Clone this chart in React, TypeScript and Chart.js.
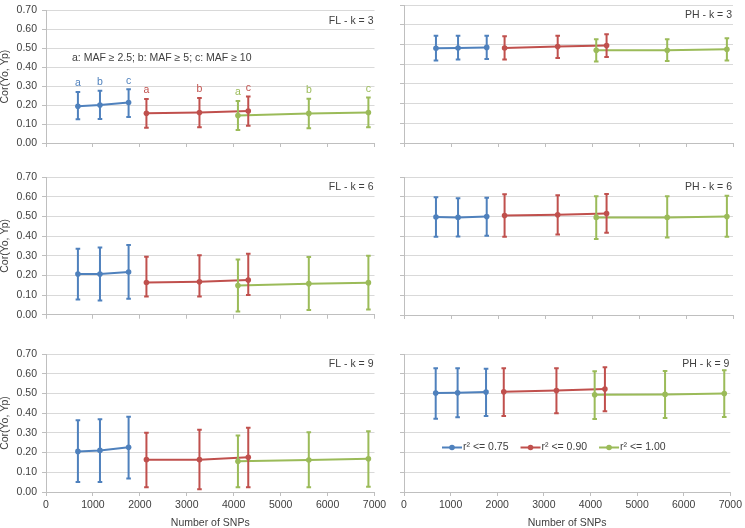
import React, { useEffect, useRef } from 'react';
import { Chart, registerables } from 'chart.js';

Chart.register(...registerables);

// ---------------- DATA ----------------
const snpsBlue = [680, 1150, 1760];
const snpsRed = [2140, 3270, 4310];
const snpsGreen = [4090, 5600, 6870];
const seriesNames = ['r² <= 0.75', 'r² <= 0.90', 'r² <= 1.00'];
const mafLetters = ['a', 'b', 'c'];
const xTickLabels = ['0', '1000', '2000', '3000', '4000', '5000', '6000', '7000'];
const yTickLabels = ['0.00', '0.10', '0.20', '0.30', '0.40', '0.50', '0.60', '0.70'];
const mafNote = 'a: MAF ≥ 2.5; b: MAF ≥ 5; c: MAF ≥ 10';
const panelTitles = ['FL - k = 3', 'PH - k = 3', 'FL - k = 6', 'PH - k = 6', 'FL - k = 9', 'PH - k = 9'];

// FL k=3
const fl3BlueMean = [0.194, 0.2, 0.213];
const fl3BlueLow = [0.125, 0.127, 0.137];
const fl3BlueHigh = [0.269, 0.276, 0.284];
const fl3RedMean = [0.157, 0.161, 0.169];
const fl3RedLow = [0.081, 0.083, 0.091];
const fl3RedHigh = [0.232, 0.237, 0.245];
const fl3GreenMean = [0.145, 0.156, 0.161];
const fl3GreenLow = [0.069, 0.078, 0.083];
const fl3GreenHigh = [0.222, 0.233, 0.24];

// PH k=3
const ph3BlueMean = [0.48, 0.482, 0.485];
const ph3BlueLow = [0.418, 0.423, 0.426];
const ph3BlueHigh = [0.544, 0.544, 0.544];
const ph3RedMean = [0.482, 0.489, 0.494];
const ph3RedLow = [0.423, 0.431, 0.436];
const ph3RedHigh = [0.541, 0.544, 0.551];
const ph3GreenMean = [0.47, 0.47, 0.475];
const ph3GreenLow = [0.413, 0.416, 0.418];
const ph3GreenHigh = [0.526, 0.526, 0.531];

// FL k=6
const fl6BlueMean = [0.207, 0.207, 0.217];
const fl6BlueLow = [0.078, 0.073, 0.081];
const fl6BlueHigh = [0.336, 0.342, 0.354];
const fl6RedMean = [0.164, 0.168, 0.176];
const fl6RedLow = [0.093, 0.093, 0.1];
const fl6RedHigh = [0.295, 0.302, 0.31];
const fl6GreenMean = [0.149, 0.158, 0.163];
const fl6GreenLow = [0.017, 0.024, 0.027];
const fl6GreenHigh = [0.281, 0.293, 0.3];

// PH k=6
const ph6BlueMean = [0.497, 0.495, 0.5];
const ph6BlueLow = [0.397, 0.398, 0.402];
const ph6BlueHigh = [0.597, 0.592, 0.595];
const ph6RedMean = [0.505, 0.508, 0.515];
const ph6RedLow = [0.397, 0.408, 0.417];
const ph6RedHigh = [0.612, 0.608, 0.614];
const ph6GreenMean = [0.495, 0.495, 0.5];
const ph6GreenLow = [0.386, 0.393, 0.397];
const ph6GreenHigh = [0.602, 0.602, 0.605];

// FL k=9
const fl9BlueMean = [0.206, 0.211, 0.227];
const fl9BlueLow = [0.051, 0.051, 0.068];
const fl9BlueHigh = [0.364, 0.369, 0.382];
const fl9RedMean = [0.164, 0.164, 0.176];
const fl9RedLow = [0.024, 0.014, 0.024];
const fl9RedHigh = [0.301, 0.316, 0.326];
const fl9GreenMean = [0.156, 0.162, 0.169];
const fl9GreenLow = [0.024, 0.024, 0.027];
const fl9GreenHigh = [0.286, 0.303, 0.308];

// PH k=9
const ph9BlueMean = [0.502, 0.503, 0.507];
const ph9BlueLow = [0.372, 0.379, 0.386];
const ph9BlueHigh = [0.628, 0.628, 0.625];
const ph9RedMean = [0.508, 0.515, 0.522];
const ph9RedLow = [0.386, 0.399, 0.409];
const ph9RedHigh = [0.628, 0.628, 0.633];
const ph9GreenMean = [0.493, 0.495, 0.5];
const ph9GreenLow = [0.37, 0.375, 0.38];
const ph9GreenHigh = [0.613, 0.614, 0.618];

// ---------------- STYLE ----------------
const FONT = '"Liberation Sans", Arial, Helvetica, sans-serif';
const FS = 10.5;
const TEXT = '#404040';
const GRID = '#D9D9D9';
const AXIS = '#BFBFBF';
const COLORS = ['#4F81BD', '#C0504D', '#9BBB59'];
const SNPS = [snpsBlue, snpsRed, snpsGreen];

type Panel = {
  title: string;
  col: number;
  row: number;
  means: number[][];
  lows: number[][];
  highs: number[][];
  letters: boolean;
  note: boolean;
  legend: boolean;
};

const panels: Panel[] = [
  { title: panelTitles[0], col: 0, row: 0, means: [fl3BlueMean, fl3RedMean, fl3GreenMean], lows: [fl3BlueLow, fl3RedLow, fl3GreenLow], highs: [fl3BlueHigh, fl3RedHigh, fl3GreenHigh], letters: true, note: true, legend: false },
  { title: panelTitles[1], col: 1, row: 0, means: [ph3BlueMean, ph3RedMean, ph3GreenMean], lows: [ph3BlueLow, ph3RedLow, ph3GreenLow], highs: [ph3BlueHigh, ph3RedHigh, ph3GreenHigh], letters: false, note: false, legend: false },
  { title: panelTitles[2], col: 0, row: 1, means: [fl6BlueMean, fl6RedMean, fl6GreenMean], lows: [fl6BlueLow, fl6RedLow, fl6GreenLow], highs: [fl6BlueHigh, fl6RedHigh, fl6GreenHigh], letters: false, note: false, legend: false },
  { title: panelTitles[3], col: 1, row: 1, means: [ph6BlueMean, ph6RedMean, ph6GreenMean], lows: [ph6BlueLow, ph6RedLow, ph6GreenLow], highs: [ph6BlueHigh, ph6RedHigh, ph6GreenHigh], letters: false, note: false, legend: false },
  { title: panelTitles[4], col: 0, row: 2, means: [fl9BlueMean, fl9RedMean, fl9GreenMean], lows: [fl9BlueLow, fl9RedLow, fl9GreenLow], highs: [fl9BlueHigh, fl9RedHigh, fl9GreenHigh], letters: false, note: false, legend: false },
  { title: panelTitles[5], col: 1, row: 2, means: [ph9BlueMean, ph9RedMean, ph9GreenMean], lows: [ph9BlueLow, ph9RedLow, ph9GreenLow], highs: [ph9BlueHigh, ph9RedHigh, ph9GreenHigh], letters: false, note: false, legend: true },
];

// ---------------- LAYOUT ----------------
const colLeft = [0, 380];
const colWidth = [390, 365];
const colPadRight = [15.5, 12];
const yAxisWidth = [46, 24];
const rowTop = [0, 165, 340];
const rowHeight = [160, 160, 188];
const rowPadTop = [5, 12, 14];
const rowPadBottom = [9, 2, 0];
const xAxisHeight = [8, 8, 36];

const font = (size = FS, lineHeight = 1.2) => ({ family: FONT, size, lineHeight });

const errorBarPlugin = {
  id: 'errorBars',
  afterDatasetsDraw(chart: any, _args: any, opts: any) {
    const ctx = chart.ctx;
    const ys = chart.scales.y;
    chart.data.datasets.forEach((ds: any, di: number) => {
      const meta = chart.getDatasetMeta(di);
      ctx.save();
      ctx.strokeStyle = ds.borderColor;
      ctx.lineWidth = 2;
      ctx.lineCap = 'butt';
      meta.data.forEach((pt: any, i: number) => {
        const yl = ys.getPixelForValue(ds.errLow[i]);
        const yh = ys.getPixelForValue(ds.errHigh[i]);
        ctx.beginPath();
        ctx.moveTo(pt.x, yl);
        ctx.lineTo(pt.x, yh);
        ctx.moveTo(pt.x - 2.3, yl);
        ctx.lineTo(pt.x + 2.3, yl);
        ctx.moveTo(pt.x - 2.3, yh);
        ctx.lineTo(pt.x + 2.3, yh);
        ctx.stroke();
        if (opts && opts.letters) {
          ctx.fillStyle = ds.borderColor;
          ctx.font = `${FS}px ${FONT}`;
          ctx.textAlign = 'center';
          ctx.textBaseline = 'middle';
          ctx.fillText(mafLetters[i], pt.x, yh - 8.5);
        }
      });
      ctx.restore();
    });
  },
};

const decorPlugin = {
  id: 'panelDecor',
  afterDraw(chart: any, _args: any, opts: any) {
    const { ctx, chartArea: ca } = chart;
    ctx.save();
    ctx.font = `${FS}px ${FONT}`;
    ctx.fillStyle = TEXT;
    ctx.textBaseline = 'middle';
    if (opts.title) {
      ctx.textAlign = 'right';
      ctx.fillText(opts.title, ca.right - 1, ca.top + 10.5);
    }
    if (opts.note) {
      ctx.textAlign = 'left';
      ctx.fillText(mafNote, ca.left + 26, ca.top + 48);
    }
    if (opts.legend) {
      let x = ca.left + 38;
      const y = ca.top + 93.5;
      chart.data.datasets.forEach((ds: any) => {
        ctx.strokeStyle = ds.borderColor;
        ctx.lineWidth = 2;
        ctx.beginPath();
        ctx.moveTo(x, y);
        ctx.lineTo(x + 20, y);
        ctx.stroke();
        ctx.fillStyle = ds.borderColor;
        ctx.beginPath();
        ctx.arc(x + 10, y, 2.8, 0, Math.PI * 2);
        ctx.fill();
        ctx.fillStyle = TEXT;
        ctx.textAlign = 'left';
        ctx.fillText(ds.label, x + 21, y);
        x += 21 + ctx.measureText(ds.label).width + 12;
      });
    }
    ctx.restore();
  },
};

function buildConfig(p: Panel): any {
  const datasets = [0, 1, 2].map((s) => ({
    label: seriesNames[s],
    data: SNPS[s].map((x, i) => ({ x, y: p.means[s][i] })),
    errLow: p.lows[s],
    errHigh: p.highs[s],
    borderColor: COLORS[s],
    backgroundColor: COLORS[s],
    pointBackgroundColor: COLORS[s],
    pointBorderColor: COLORS[s],
    pointBorderWidth: 0,
    pointRadius: 2.8,
    borderWidth: 2,
    showLine: true,
    tension: 0,
    order: 2 - s,
  }));
  const bottom = p.row === 2;
  const left = p.col === 0;
  return {
    type: 'scatter',
    data: { datasets },
    plugins: [errorBarPlugin, decorPlugin],
    options: {
      responsive: false,
      animation: false,
      events: [],
      layout: {
        padding: { top: rowPadTop[p.row], bottom: rowPadBottom[p.row], left: 0, right: colPadRight[p.col] },
      },
      plugins: {
        legend: { display: false },
        tooltip: { enabled: false },
        errorBars: { letters: p.letters },
        panelDecor: { title: p.title, note: p.note, legend: p.legend },
      },
      scales: {
        x: {
          type: 'linear',
          min: 0,
          max: 7000,
          ticks: {
            stepSize: 1000,
            display: bottom,
            autoSkip: false,
            maxRotation: 0,
            padding: 3,
            color: TEXT,
            font: font(FS, 1.2),
            callback: (_v: any, i: number) => xTickLabels[i],
          },
          grid: { drawOnChartArea: false, drawTicks: true, tickLength: 4, color: AXIS, tickColor: AXIS },
          border: { display: true, color: AXIS, width: 1 },
          title: {
            display: bottom,
            text: 'Number of SNPs',
            color: TEXT,
            font: font(FS, 1),
            padding: { top: 0, bottom: 0 },
          },
          afterFit: (s: any) => {
            s.height = xAxisHeight[p.row];
          },
        },
        y: {
          min: 0,
          max: 0.7,
          ticks: {
            stepSize: 0.1,
            display: left,
            padding: 5,
            color: TEXT,
            font: font(FS, 1),
            callback: (_v: any, i: number) => yTickLabels[i],
          },
          grid: { color: GRID, tickColor: AXIS, tickLength: 4, drawTicks: true },
          border: { display: true, color: AXIS, width: 1 },
          title: {
            display: left,
            text: 'Cor(Yo, Yp)',
            color: TEXT,
            font: font(FS, 1),
            padding: { top: 0, bottom: 0 },
          },
          afterFit: (s: any) => {
            s.width = yAxisWidth[p.col];
          },
        },
      },
    },
  };
}

export default function App() {
  const refs = useRef<(HTMLCanvasElement | null)[]>([]);

  useEffect(() => {
    Chart.defaults.font.family = FONT;
    Chart.defaults.font.size = FS;
    Chart.defaults.color = TEXT;
    const charts = panels.map((p, idx) => new Chart(refs.current[idx] as HTMLCanvasElement, buildConfig(p)));
    return () => charts.forEach((c) => c.destroy());
  }, []);

  return (
    <div style={{ position: 'fixed', left: 0, top: 0, width: 745, height: 528, overflow: 'hidden', background: '#fff' }}>
      {panels.map((p, idx) => (
        <canvas
          key={p.title}
          ref={(el) => {
            refs.current[idx] = el;
          }}
          width={colWidth[p.col]}
          height={rowHeight[p.row]}
          style={{
            position: 'absolute',
            left: colLeft[p.col],
            top: rowTop[p.row],
            width: colWidth[p.col],
            height: rowHeight[p.row],
          }}
        />
      ))}
    </div>
  );
}
